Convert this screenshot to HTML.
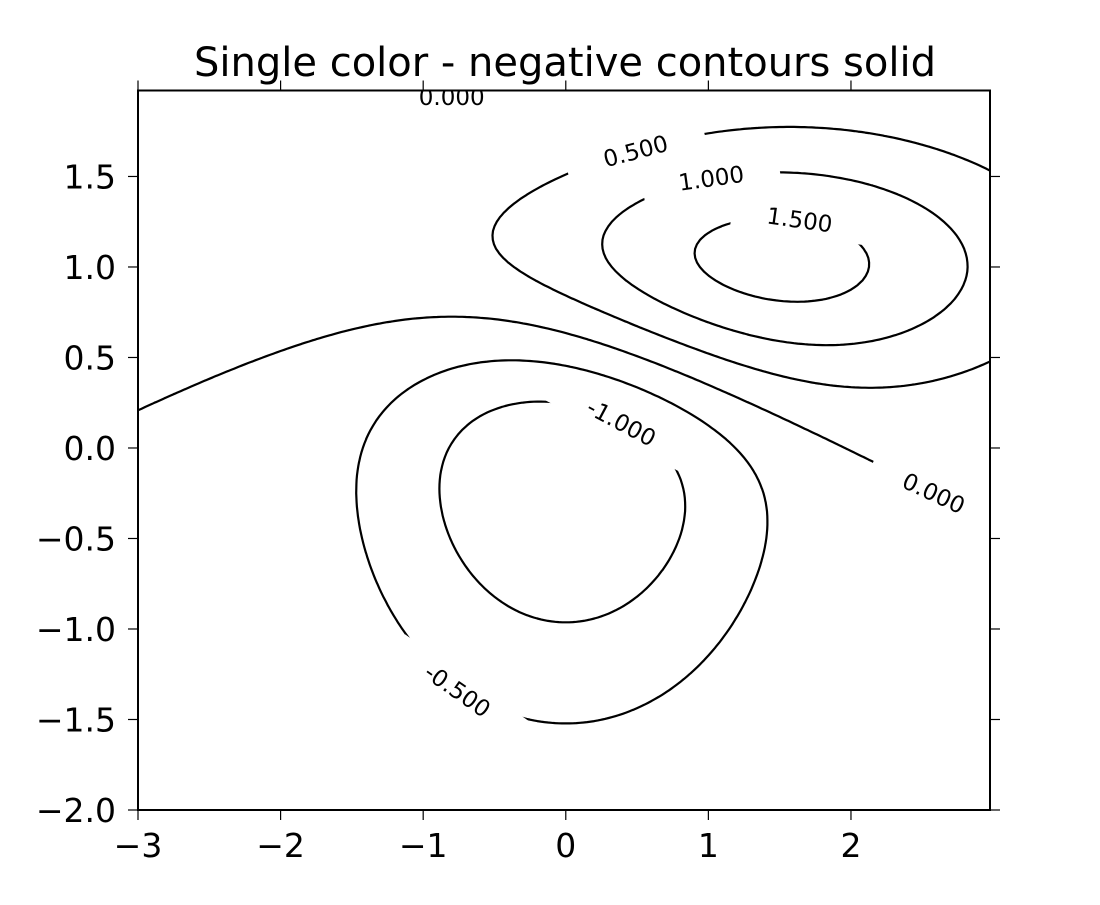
<!DOCTYPE html>
<html><head><meta charset="utf-8"><style>
body{margin:0;background:#fff;}
svg text{font-family:"DejaVu Sans","Liberation Sans",sans-serif;}
</style></head><body>
<svg id="chart" width="1100" height="900" xmlns="http://www.w3.org/2000/svg">
<defs><clipPath id="clip"><rect x="138" y="90.5" width="852" height="719.5"/></clipPath></defs>
<rect width="1100" height="900" fill="#fff"/>
<text x="565" y="76" font-size="40" text-anchor="middle">Single color - negative contours solid</text>
<g id="plot" clip-path="url(#clip)"></g>
<g id="axes"></g>
</svg>
<script>
// data: field = 10*(G2 - G1), bivariate normals
const gaussianSigmaX = [1.0, 1.5];
const gaussianSigmaY = [1.0, 0.5];
const gaussianMuX = [0.0, 1.0];
const gaussianMuY = [0.0, 1.0];
const gaussianSign = [-10, 10];
const levels = [-1.0, -0.5, 0.0, 0.5, 1.0, 1.5];
const xTicks = [-3, -2, -1, 0, 1, 2];
const xTickLabels = ["\u22123", "\u22122", "\u22121", "0", "1", "2"];
const yTicks = [-2, -1.5, -1, -0.5, 0, 0.5, 1, 1.5];
const yTickLabels = ["\u22122.0", "\u22121.5", "\u22121.0", "\u22120.5", "0.0", "0.5", "1.0", "1.5"];
const labelText = ["0.000", "0.500", "1.000", "1.500", "-1.000", "0.000", "-0.500"];
const labelX = [-0.80, 0.49, 1.02, 1.64, 0.39, 2.58, -0.76];
const labelY = [1.94, 1.64, 1.49, 1.26, 0.14, -0.25, -1.34];
const labelAngle = [0, -15, -8, 8, 28, 25, 35];
const labelGap = [160, 142, 138, 136, 156, 136, 150];
const xMin = -3, xMax = 2.975, yMin = -2, yMax = 1.975, step = 0.025;

const L = 138, R = 990, T = 90.5, B = 810;
const sx = x => L + (x - xMin) / (xMax - xMin) * (R - L);
const sy = y => B - (y - yMin) / (yMax - yMin) * (B - T);
const NS = "http://www.w3.org/2000/svg";
const plot = document.getElementById('plot'), axes = document.getElementById('axes');
function mk(tag, attrs, parent) { const e = document.createElementNS(NS, tag); for (const k in attrs) e.setAttribute(k, attrs[k]); parent.appendChild(e); return e; }

function field(x, y) {
  let z = 0;
  for (let i = 0; i < gaussianSign.length; i++) {
    const dx = (x - gaussianMuX[i]) / gaussianSigmaX[i], dy = (y - gaussianMuY[i]) / gaussianSigmaY[i];
    z += gaussianSign[i] * Math.exp(-0.5 * (dx * dx + dy * dy)) / (2 * Math.PI * gaussianSigmaX[i] * gaussianSigmaY[i]);
  }
  return z;
}
const nx = Math.round((xMax - xMin) / step) + 1, ny = Math.round((yMax - yMin) / step) + 1;
const Z = [];
for (let j = 0; j < ny; j++) { const row = []; for (let i = 0; i < nx; i++) row.push(field(xMin + i * step, yMin + j * step)); Z.push(row); }

levels.forEach(lv => {
  let d = "";
  for (let j = 0; j < ny - 1; j++) for (let i = 0; i < nx - 1; i++) {
    const c = [[i, j], [i + 1, j], [i + 1, j + 1], [i, j + 1]];
    const v = c.map(p => Z[p[1]][p[0]]);
    const pts = [];
    for (let k = 0; k < 4; k++) {
      const a = v[k], b = v[(k + 1) % 4];
      if ((a < lv) !== (b < lv)) {
        const t = (lv - a) / (b - a);
        const p0 = c[k], p1 = c[(k + 1) % 4];
        const gx = p0[0] + t * (p1[0] - p0[0]), gy = p0[1] + t * (p1[1] - p0[1]);
        pts.push([sx(xMin + gx * step), sy(yMin + gy * step)]);
      }
    }
    for (let k = 0; k + 1 < pts.length; k += 2)
      d += "M" + pts[k][0].toFixed(1) + " " + pts[k][1].toFixed(1) + "L" + pts[k + 1][0].toFixed(1) + " " + pts[k + 1][1].toFixed(1);
  }
  const p = mk('path', { d: d, fill: 'none', stroke: '#000', 'stroke-width': 2.2, 'stroke-linecap': 'round' }, plot);
  
  
});

labelText.forEach((t, i) => {
  const g = mk('g', { transform: `translate(${sx(labelX[i])},${sy(labelY[i])}) rotate(${labelAngle[i]})` }, plot);
  
  
  const w = labelGap[i];
  mk('rect', { x: -w / 2, y: -16, width: w, height: 32, fill: '#fff' }, g);
  mk('text', { x: 0, y: 8, 'font-size': 23, 'text-anchor': 'middle' }, g).textContent = t;
});

// frame
const fr = mk('rect', { x: L, y: T, width: R - L, height: B - T, fill: 'none', stroke: '#000', 'stroke-width': 2 }, axes);


xTicks.forEach((v, i) => {
  const x = sx(v);
  mk('line', { x1: x, x2: x, y1: B, y2: B + 10, stroke: '#000', 'stroke-width': 1.2 }, axes);
  mk('line', { x1: x, x2: x, y1: T, y2: T - 10, stroke: '#000', 'stroke-width': 1.2 }, axes);
  const tx = mk('text', { x: x, y: B + 47, 'font-size': 33, 'text-anchor': 'middle' }, axes);
  tx.textContent = xTickLabels[i];
  
  
});
yTicks.forEach((v, i) => {
  const y = sy(v);
  mk('line', { x1: L - 10, x2: L, y1: y, y2: y, stroke: '#000', 'stroke-width': 1.2 }, axes);
  mk('line', { x1: R, x2: R + 10, y1: y, y2: y, stroke: '#000', 'stroke-width': 1.2 }, axes);
  const ty = mk('text', { x: L - 22, y: y + 12, 'font-size': 33, 'text-anchor': 'end' }, axes);
  ty.textContent = yTickLabels[i];
  
  
});
</script>
</body></html>
